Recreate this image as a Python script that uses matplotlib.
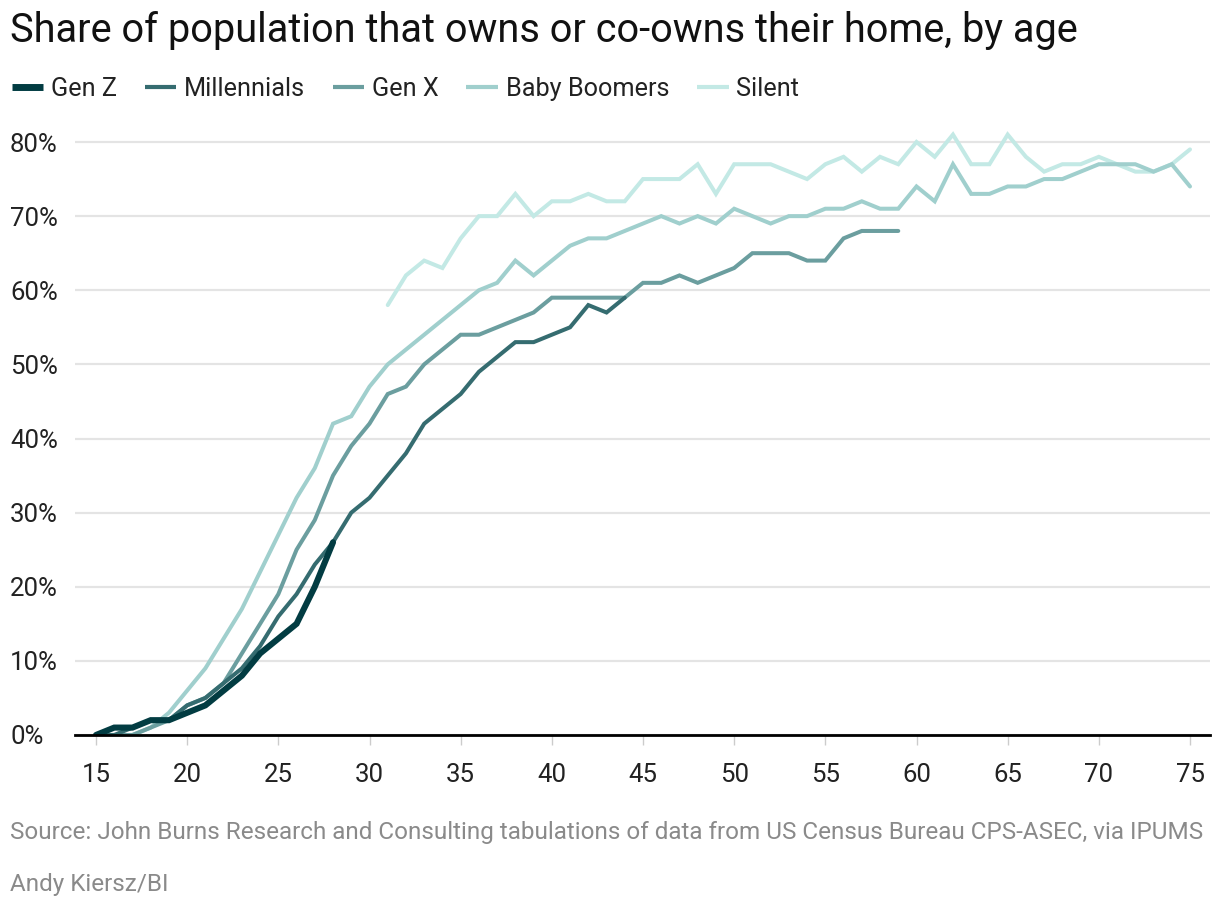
import matplotlib
matplotlib.use("Agg")
import matplotlib.pyplot as plt
from matplotlib.lines import Line2D

# ---------------- data ----------------
gen_z_start = 15
gen_z = [0, 1, 1, 2, 2, 3, 4, 6, 8, 11, 13, 15, 20, 26]

millennials_start = 15
millennials = [0, 0, 1, 2, 2, 4, 5, 7, 9, 12, 16, 19, 23, 26, 30, 32, 35, 38, 42, 44,
               46, 49, 51, 53, 53, 54, 55, 58, 57, 59]

gen_x_start = 15
gen_x = [0, 0, 0, 1, 2, 4, 5, 7, 11, 15, 19, 25, 29, 35, 39, 42, 46, 47, 50, 52,
         54, 54, 55, 56, 57, 59, 59, 59, 59, 59, 61, 61, 62, 61, 62, 63, 65, 65, 65, 64,
         64, 67, 68, 68, 68]

boomers_start = 15
boomers = [0, 0, 0, 1, 3, 6, 9, 13, 17, 22, 27, 32, 36, 42, 43, 47, 50, 52, 54, 56,
           58, 60, 61, 64, 62, 64, 66, 67, 67, 68, 69, 70, 69, 70, 69, 71, 70, 69, 70, 70,
           71, 71, 72, 71, 71, 74, 72, 77, 73, 73, 74, 74, 75, 75, 76, 77, 77, 77, 76, 77,
           74]

silent_start = 31
silent = [58, 62, 64, 63, 67, 70, 70, 73, 70, 72, 72, 73, 72, 72, 75, 75, 75, 77, 73, 77,
          77, 77, 76, 75, 77, 78, 76, 78, 77, 80, 78, 81, 77, 77, 81, 78, 76, 77, 77, 78,
          77, 76, 76, 77, 79]

series_names = ["Gen Z", "Millennials", "Gen X", "Baby Boomers", "Silent"]
x_ticks = [15, 20, 25, 30, 35, 40, 45, 50, 55, 60, 65, 70, 75]
y_ticks = [0, 10, 20, 30, 40, 50, 60, 70, 80]
y_tick_labels = ["0%", "10%", "20%", "30%", "40%", "50%", "60%", "70%", "80%"]

title = "Share of population that owns or co-owns their home, by age"
source = ("Source: John Burns Research and Consulting tabulations of data from "
          "US Census Bureau CPS-ASEC, via IPUMS")
credit = "Andy Kiersz/BI"

# ---------------- style ----------------
FONT = ["Roboto", "DejaVu Sans"]
plt.rcParams["font.family"] = FONT

colors = {
    "Gen Z": "#023c42",
    "Millennials": "#356c70",
    "Gen X": "#6b9e9f",
    "Baby Boomers": "#a0cfcd",
    "Silent": "#c3e9e5",
}
widths = {"Gen Z": 4.4, "Millennials": 2.9, "Gen X": 2.9, "Baby Boomers": 2.9, "Silent": 2.9}

W, H = 1220, 910
fig = plt.figure(figsize=(W / 100, H / 100), dpi=100)
fig.patch.set_facecolor("white")

left, right, bottom, top = 75, 1210, 735, 130
ax = fig.add_axes([left / W, 1 - bottom / H, (right - left) / W, (bottom - top) / H])

data = {
    "Gen Z": (gen_z_start, gen_z),
    "Millennials": (millennials_start, millennials),
    "Gen X": (gen_x_start, gen_x),
    "Baby Boomers": (boomers_start, boomers),
    "Silent": (silent_start, silent),
}

for name in reversed(series_names):
    start, vals = data[name]
    xs = list(range(start, start + len(vals)))
    ax.plot(xs, vals, color=colors[name], lw=widths[name],
            solid_joinstyle="miter", solid_capstyle="round", zorder=3)

px_per_year = (1190 - 96) / 60
px_per_pct = (735 - 142) / 80
ax.set_xlim(15 - (96 - left) / px_per_year, 75 + (right - 1190) / px_per_year)
ax.set_ylim(0, (bottom - top) / px_per_pct)

ax.set_xticks(x_ticks)
ax.set_xticklabels([str(t) for t in x_ticks])
ax.set_yticks(y_ticks)
ax.set_yticklabels(y_tick_labels)

for s in ["top", "right", "left"]:
    ax.spines[s].set_visible(False)
ax.spines["bottom"].set_color("#000000")
ax.spines["bottom"].set_linewidth(2.0)
ax.spines["bottom"].set_zorder(4)

ax.grid(axis="y", color="#e4e4e4", lw=1.6, zorder=0)
ax.set_axisbelow(True)

ax.tick_params(axis="x", length=7, width=1, color="#cccccc", pad=13,
               labelsize=18.5, labelcolor="#222222")
ax.tick_params(axis="y", length=0, pad=(left - 10) * 0.72,
               labelsize=18.5, labelcolor="#222222")
for lab in ax.get_yticklabels():
    lab.set_horizontalalignment("left")

# title
fig.text(10 / W, 1 - 30 / H, title, fontsize=28.6, color="#111111",
         ha="left", va="center")

# legend
handles = [Line2D([0], [0], color=colors[n], lw=(5.0 if n == "Gen Z" else 3.0),
                  solid_capstyle="butt") for n in series_names]
leg = fig.legend(handles, series_names, loc="center left",
                 bbox_to_anchor=(4 / W, 1 - 89 / H), ncol=5, frameon=False,
                 fontsize=18.2, handlelength=1.25, handletextpad=0.3,
                 columnspacing=1.1, borderaxespad=0, borderpad=0.3)
for t in leg.get_texts():
    t.set_color("#222222")

# footer
fig.text(10 / W, 1 - 833 / H, source, fontsize=17.5, color="#8a8a8a",
         ha="left", va="center")
fig.text(10 / W, 1 - 885 / H, credit, fontsize=17.5, color="#8a8a8a",
         ha="left", va="center")

fig.savefig("out.png", dpi=100, facecolor="white")
